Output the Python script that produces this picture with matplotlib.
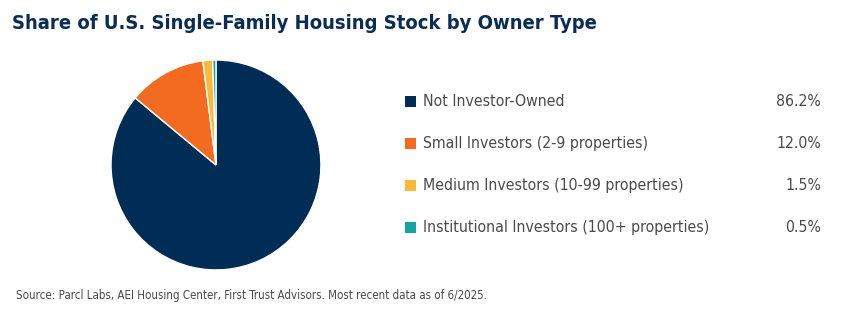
import matplotlib
matplotlib.use("Agg")
import matplotlib.pyplot as plt
from matplotlib.patches import Rectangle
from matplotlib import font_manager

names = {f.name for f in font_manager.fontManager.ttflist}
if "Liberation Sans Narrow" in names:
    FAMILY = ["Liberation Sans Narrow", "DejaVu Sans"]
    STRETCH = "normal"
else:
    FAMILY = ["DejaVu Sans"]
    STRETCH = "condensed"
plt.rcParams["font.family"] = FAMILY
plt.rcParams["font.stretch"] = STRETCH

categories = [
    "Not Investor-Owned",
    "Small Investors (2-9 properties)",
    "Medium Investors (10-99 properties)",
    "Institutional Investors (100+ properties)",
]
shares = [86.2, 12.0, 1.5, 0.5]
colors = ["#002d56", "#f26b21", "#fbb93a", "#17a3a6"]

NAVY = "#0b2c55"
GRAY = "#4a4a4a"

fig = plt.figure(figsize=(8.43, 3.11), dpi=100)

ax = fig.add_axes([0.1317, 0.132, 0.249, 0.675])
ax.pie(shares, colors=colors, startangle=90, counterclock=False,
       wedgeprops=dict(edgecolor="white", linewidth=1.0))
ax.set_xlim(-1.0, 1.0)
ax.set_ylim(-1.0, 1.0)
ax.set_aspect("equal")

fig.text(0.014, 0.925, "Share of U.S. Single-Family Housing Stock by Owner Type",
         fontsize=14.5, fontweight="bold", color=NAVY, va="center", ha="left")

# legend with values
y0 = 1 - 101 / 311
dy = 42.3 / 311
for i, (cat, val, col) in enumerate(zip(categories, shares, colors)):
    y = y0 - i * dy
    fig.patches.append(Rectangle((405 / 843, y - 5.5 / 311), 11 / 843, 11 / 311,
                                 transform=fig.transFigure, facecolor=col,
                                 edgecolor="none"))
    fig.text(423 / 843, y, cat, fontsize=11.3, color=GRAY, va="center", ha="left")
    fig.text(821 / 843, y, f"{val:.1f}%", fontsize=11.3, color=GRAY,
             va="center", ha="right")

fig.text(0.019, 1 - 296 / 311,
         "Source: Parcl Labs, AEI Housing Center, First Trust Advisors. Most recent data as of 6/2025.",
         fontsize=8.3, color=GRAY, va="center", ha="left")

fig.savefig("out.png", dpi=100, facecolor="white")
